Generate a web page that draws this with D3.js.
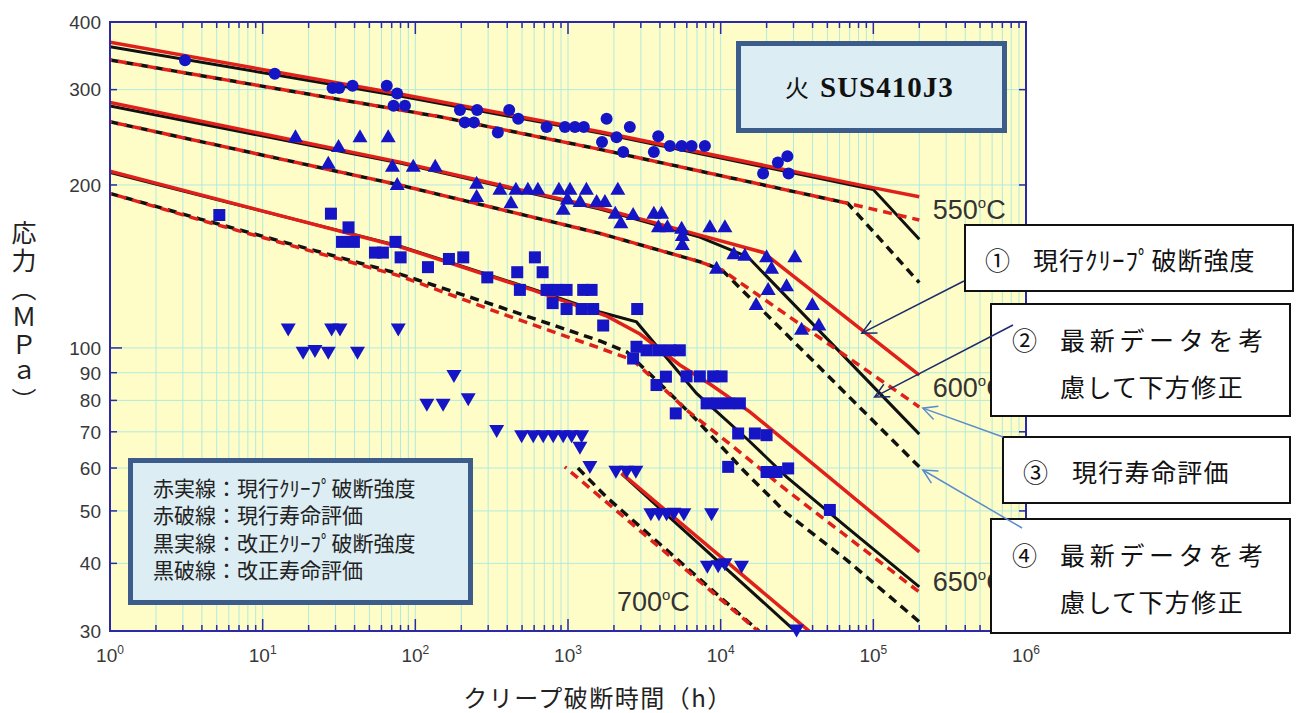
<!DOCTYPE html>
<html>
<head>
<meta charset="utf-8">
<script src="https://cdn.jsdelivr.net/npm/d3@7"></script>
<style>
	body { margin: 0; background: #ffffff; }
	svg text { font-family: 'Liberation Sans', Arial, sans-serif; }
	svg .jp { font-family: 'Noto Sans CJK JP', sans-serif; }
</style>
</head>
<body>
<div id="plot"></div>
<script>
// ---- values: [rupture time (h), stress (MPa)] ----

// test data points
var circles550 = [[3.1,340],[12,321],[28.7,302],[31.7,302],[38.8,305],[65,305],[76,295],[72,280],[85.5,280],
	[196,275],[254,275],[211,261],[242,261],[347,250],[412,275],[472,265],[724,256],[955,256],[1110,256],[1270,256],
	[1790,265],[1670,240],[2080,245],[2300,230],[2540,256],[3900,246],[3650,230],[4650,236],[5550,236],[6450,236],[7880,236],
	[18970,210],[23700,220],[27350,226],[27860,210]];

var triUp600 = [[16.4,245],[31.4,235],[26.9,219],[43.4,245],[66.4,245],[70.8,216],[96.9,216],[135,216],[76.1,200],
	[252,201],[252,190],[358,196],[456,196],[546,196],[635,196],[872,196],[1030,196],[1320,196],[2120,196],
	[423,185],[930,180],[991,188],[1200,186],[1540,186],[1745,186],[2040,177],[2220,170],[2670,176],
	[3650,177],[4100,177],[3910,167],[4480,167],[5550,166],[5610,161],[5610,155],[8500,167],[10660,167],
	[12200,149],[14400,148],[19980,147],[30620,147],[21540,140],[9400,140],[20470,128],[27010,130],
	[17080,120],[39870,120],[33880,108],[43970,110]];

var squares650 = [[5.2,176],[28,177],[36.5,167],[33.1,157],[39.6,157],[54.4,150],[61.3,150],[74.1,157],[80.1,147],[121,141],
	[166,146],[206,147],[296,135],[465,138],[607,147],[682,138],[484,128],[724,128],[842,128],[979,128],[1258,128],[1427,128],
	[793,121],[979,118],[1228,118],[1462,118],[1700,110],[2840,118],
	[2810,100.5],[3270,99],[3900,99],[4650,99],[5400,99],[2670,95.6],
	[4380,88.5],[5980,88.6],[7300,88.6],[8930,88.6],[10140,88.6],[3800,85.4],[5080,75.7],
	[8090,79],[9520,79],[11320,79],[13360,79],[13020,69.5],[16750,69.5],[19980,69],
	[11200,60.3],[19980,59],[23230,59],[27680,59.9],[51900,50.2]];

var triDown700 = [[14.7,108.6],[18.4,98.4],[22,99.1],[26.9,98.4],[28.3,108.6],[32.1,108.6],[41.8,98.4],[77.3,108.6],
	[179,89.1],[119,78.9],[152,78.9],[222,80.7],[341,70.5],
	[497,69],[592,69],[688,69],[800,69],[930,69],[1056,69],[1228,69],[1197,65.7],[1391,60.5],
	[2059,59.3],[2420,59.3],[2784,59.3],
	[3490,49.5],[3939,49.5],[4423,49.5],[4937,49.6],[5741,49.5],[8718,49.5],
	[8182,39.6],[9630,39.7],[10660,40],[13700,39.6],[31420,30.2]];

// evaluation curves
var redSolid550 = [[1,367],[79.3,294.4],[1618,250.8],[1.05e5,197.1],[2e5,190.2]];
var blackSolid550 = [[1,360],[79.3,292],[1618,249.4],[1e5,196.1],[2e5,158.7]];
var redDash550 = [[1,340.4],[145,267.3],[1618,232.7],[68000,185],[2e5,172.3]];
var blackDash550 = [[1,340.4],[145,267.3],[1618,232.7],[68000,185],[2e5,132]];

var redSolid600 = [[1,284],[79.3,220.4],[1618,181.3],[7300,161.6],[19000,150.1],[2e5,89.1]];
var blackSolid600 = [[1,280],[79.3,219.5],[1618,180.5],[7300,160.2],[15100,147.2],[2e5,69.3]];
var redDash600 = [[1,261.7],[79.3,199.9],[1618,162.8],[7300,144.3],[10200,139.3],[2e5,77.8]];
var blackDash600 = [[1,261.7],[79.3,199.9],[1618,162.8],[7300,144.3],[10200,139.3],[2e5,60.3]];

var redSolid650 = [[1,212],[79.3,153.8],[589,127.9],[1800,114.5],[2960,106.1],[5400,93],[8500,85.8],[15540,76.2],[2e5,42]];
var blackSolid650 = [[1,211],[79.3,154.2],[589,128.4],[1618,116.5],[2810,111.7],[6950,82.4],[15140,67.6],[27000,57.8],[68400,46.4],[2e5,36.2]];
var redDash650 = [[1,193],[3.9,172.3],[79.3,135.8],[358,116],[1618,99.9],[2660,95],[5980,76.8],[12080,65.7],[27000,54.6],[2e5,35.4]];
var blackDash650 = [[1,193],[3.9,173],[79.3,136.9],[358,119],[1618,103],[2430,98.3],[4420,83.6],[6950,73.6],[14040,59.5],[27000,49.5],[66750,40.6],[2e5,31.2]];

var redSolid700 = [[2240,58.7],[39000,29.8]];
var blackSolid700 = [[2250,58.5],[31500,29.8]];
var redDash700 = [[954,60.3],[17800,29.9]];
var blackDash700 = [[1161,60],[1790,53],[18000,29.9]];

// axes
var yTickValues = [30,40,50,60,70,80,90,100,200,300,400];
var xDecades = [0,1,2,3,4,5,6];

// texts
var tempLabels = [{t:"550", deg:"C", at:[2.45e5,173]}, {t:"600", deg:"C", at:[2.45e5,81]},
	{t:"650", deg:"C", at:[2.45e5,35.5]}, {t:"700", deg:"C", at:[2090,32.7]}];
var legendLines = ["赤実線：現行ｸﾘｰﾌﾟ破断強度", "赤破線：現行寿命評価", "黒実線：改正ｸﾘｰﾌﾟ破断強度", "黒破線：改正寿命評価"];
var yLabel = "応力（ＭＰａ）";
var xLabel = "クリープ破断時間（h）";
var titleText = ["火", "SUS410J3"];
var notes = [
	{mark:"①", lines:["現行ｸﾘｰﾌﾟ破断強度"]},
	{mark:"②", lines:["最新データを考", "慮して下方修正"]},
	{mark:"③", lines:["現行寿命評価"]},
	{mark:"④", lines:["最新データを考", "慮して下方修正"]}
];
// arrow tips, in chart units
var arrowTips = [[84100,106.5],[102000,81.2],[211000,77.4],[211000,59.5]];


// ---- drawing ----
var width = 1299, height = 713;
var area = {left: 110, right: 1026, top: 22, bottom: 631};
var axisColor = "#2a2aa6",
	gridColor = "#b2eadd",
	markColor = "#1515c6",
	red = "#e0211b",
	black = "#111111";

var svg = d3.select("#plot").append("svg")
	.attr("width", width)
	.attr("height", height);

var x = d3.scaleLog().domain([1, 1e6]).range([area.left, area.right]);
var y = d3.scaleLog().domain([30, 400]).range([area.bottom, area.top]);

// plot background
svg.append("rect")
	.attr("x", area.left).attr("y", area.top)
	.attr("width", area.right - area.left).attr("height", area.bottom - area.top)
	.attr("fill", "#fefdc8");

// grid lines at every log tick
var xTicks = [];
xDecades.forEach(function(k){
	if (k < 6) for (var m = 1; m < 10; m++) xTicks.push(m * Math.pow(10, k));
});
xTicks.push(1e6);
var isDecade = function(v){ var l = Math.log10(v); return Math.abs(l - Math.round(l)) < 1e-9; };

var grid = svg.append("g").attr("stroke", gridColor).attr("stroke-width", 1);
grid.selectAll(".gx").data(xTicks).enter().append("line")
	.attr("x1", function(d){ return x(d); }).attr("x2", function(d){ return x(d); })
	.attr("y1", area.top).attr("y2", area.bottom);
grid.selectAll(".gy").data(yTickValues).enter().append("line")
	.attr("x1", area.left).attr("x2", area.right)
	.attr("y1", function(d){ return y(d); }).attr("y2", function(d){ return y(d); });

// curves, clipped to the plot
svg.append("clipPath").attr("id", "clip").append("rect")
	.attr("x", area.left).attr("y", area.top)
	.attr("width", area.right - area.left).attr("height", area.bottom - area.top);

var line = d3.line()
	.x(function(d){ return x(d[0]); })
	.y(function(d){ return y(d[1]); });

var curves = [
	{d: blackSolid550, c: black, w: 3, dash: null},
	{d: blackSolid600, c: black, w: 3, dash: null},
	{d: blackSolid650, c: black, w: 3, dash: null},
	{d: blackSolid700, c: black, w: 3, dash: null},
	{d: redSolid550, c: red, w: 3.5, dash: null},
	{d: redSolid600, c: red, w: 3.5, dash: null},
	{d: redSolid650, c: red, w: 3.5, dash: null},
	{d: redSolid700, c: red, w: 3.5, dash: null},
	{d: blackDash550, c: black, w: 3.5, dash: "9,6", off: 0},
	{d: blackDash600, c: black, w: 3.5, dash: "9,6", off: 0},
	{d: blackDash650, c: black, w: 3.5, dash: "9,6", off: 0},
	{d: blackDash700, c: black, w: 3.5, dash: "9,6", off: 0},
	{d: redDash550, c: red, w: 3.5, dash: "9,6", off: 7},
	{d: redDash600, c: red, w: 3.5, dash: "9,6", off: 7},
	{d: redDash650, c: red, w: 3.5, dash: "9,6", off: 7},
	{d: redDash700, c: red, w: 3.5, dash: "9,6", off: 7}
];

svg.append("g").attr("clip-path", "url(#clip)")
	.selectAll("path").data(curves).enter().append("path")
	.attr("d", function(c){ return line(c.d); })
	.attr("fill", "none")
	.attr("stroke", function(c){ return c.c; })
	.attr("stroke-width", function(c){ return c.w; })
	.attr("stroke-dasharray", function(c){ return c.dash; })
	.attr("stroke-dashoffset", function(c){ return c.off || 0; });

// frame and inward ticks
svg.append("rect")
	.attr("x", area.left).attr("y", area.top)
	.attr("width", area.right - area.left).attr("height", area.bottom - area.top)
	.attr("fill", "none").attr("stroke", axisColor).attr("stroke-width", 2);

var ticks = svg.append("g").attr("stroke", axisColor).attr("stroke-width", 1.5);
ticks.selectAll(".tb").data(xTicks).enter().append("line")
	.attr("x1", function(d){ return x(d); }).attr("x2", function(d){ return x(d); })
	.attr("y1", area.bottom).attr("y2", function(d){ return area.bottom - (isDecade(d) ? 12 : 6); });
ticks.selectAll(".tt").data(xTicks).enter().append("line")
	.attr("x1", function(d){ return x(d); }).attr("x2", function(d){ return x(d); })
	.attr("y1", area.top).attr("y2", function(d){ return area.top + (isDecade(d) ? 12 : 6); });
ticks.selectAll(".tl").data(yTickValues).enter().append("line")
	.attr("y1", function(d){ return y(d); }).attr("y2", function(d){ return y(d); })
	.attr("x1", area.left).attr("x2", function(d){ return area.left + (d === 100 ? 12 : 7); });
ticks.selectAll(".tr").data(yTickValues).enter().append("line")
	.attr("y1", function(d){ return y(d); }).attr("y2", function(d){ return y(d); })
	.attr("x1", area.right).attr("x2", function(d){ return area.right - (d === 100 ? 12 : 7); });

// tick labels
svg.append("g").selectAll("text").data(yTickValues).enter().append("text")
	.attr("x", area.left - 9)
	.attr("y", function(d){ return y(d); })
	.attr("dy", "0.36em")
	.attr("text-anchor", "end")
	.attr("font-size", 19)
	.attr("fill", "#383838")
	.text(function(d){ return d; });

svg.append("g").selectAll("text").data(xDecades).enter().append("text")
	.attr("x", function(d){ return x(Math.pow(10, d)); })
	.attr("y", 662)
	.attr("text-anchor", "middle")
	.attr("font-size", 19)
	.attr("fill", "#383838")
	.each(function(d){
		var t = d3.select(this);
		t.append("tspan").text("10");
		t.append("tspan").attr("dy", -8).attr("font-size", 12).text(d);
	});

// data markers
var marks = svg.append("g").attr("fill", markColor);
marks.selectAll(".c550").data(circles550).enter().append("circle")
	.attr("cx", function(d){ return x(d[0]); })
	.attr("cy", function(d){ return y(d[1]); })
	.attr("r", 6);
marks.selectAll(".t600").data(triUp600).enter().append("path")
	.attr("d", "M0,-8L7.5,5L-7.5,5Z")
	.attr("transform", function(d){ return "translate(" + x(d[0]) + "," + y(d[1]) + ")"; });
marks.selectAll(".s650").data(squares650).enter().append("rect")
	.attr("x", function(d){ return x(d[0]) - 6; })
	.attr("y", function(d){ return y(d[1]) - 6; })
	.attr("width", 12).attr("height", 12);
marks.selectAll(".t700").data(triDown700).enter().append("path")
	.attr("d", "M0,8L7.5,-5L-7.5,-5Z")
	.attr("transform", function(d){ return "translate(" + x(d[0]) + "," + y(d[1]) + ")"; });

// temperature labels
var tl = svg.append("g").selectAll("text").data(tempLabels).enter().append("text")
	.attr("x", function(d){ return x(d.at[0]); })
	.attr("y", function(d){ return y(d.at[1]); })
	.attr("font-size", 27)
	.attr("fill", "#333");
tl.append("tspan").text(function(d){ return d.t; });
tl.append("tspan").attr("dy", -11).attr("font-size", 15).text("o");
tl.append("tspan").attr("dy", 11).text(function(d){ return d.deg; });

// axis titles
svg.append("text")
	.attr("class", "jp")
	.attr("x", 24).attr("y", 220)
	.style("writing-mode", "vertical-rl")
	.attr("font-size", 25)
	.attr("letter-spacing", 3)
	.attr("fill", "#222")
	.text(yLabel);

svg.append("text")
	.attr("class", "jp")
	.attr("x", 598).attr("y", 707)
	.attr("text-anchor", "middle")
	.attr("font-size", 24)
	.attr("letter-spacing", 1.5)
	.attr("fill", "#222")
	.text(xLabel);

// title box
svg.append("rect")
	.attr("x", 738.5).attr("y", 43.5).attr("width", 266).attr("height", 87)
	.attr("fill", "#dcedf3").attr("stroke", "#3c5c8c").attr("stroke-width", 5);
var title = svg.append("text").attr("y", 97).attr("fill", "#111");
title.append("tspan").attr("class", "jp").attr("x", 785).attr("font-size", 24).text(titleText[0]);
title.append("tspan").attr("x", 820).attr("font-size", 29).attr("font-weight", "bold")
	.attr("letter-spacing", 1)
	.style("font-family", "'Liberation Serif', 'DejaVu Serif', serif")
	.text(titleText[1]);

// legend box
svg.append("rect")
	.attr("x", 130.5).attr("y", 460.5).attr("width", 340).attr("height", 142)
	.attr("fill", "#dcedf3").attr("stroke", "#3c5c8c").attr("stroke-width", 5);
svg.append("g").selectAll("text").data(legendLines).enter().append("text")
	.attr("class", "jp")
	.attr("x", 153)
	.attr("y", function(d, i){ return 496 + i * 27.3; })
	.attr("font-size", 21)
	.attr("fill", "#222")
	.text(function(d){ return d; });

// annotation boxes on the right
var boxes = [
	{x: 965, y: 225, w: 328, h: 66, markX: 985, textX: 1033, base: [270], sp: [1]},
	{x: 991, y: 304, w: 299, h: 112, markX: 1012, textX: 1060, base: [350, 397], sp: [4.7, 1.4]},
	{x: 1003, y: 437, w: 287, h: 66, markX: 1023, textX: 1072, base: [482], sp: [1.3]},
	{x: 991, y: 519, w: 299, h: 114, markX: 1012, textX: 1060, base: [565, 612], sp: [4.7, 1.4]}
];
boxes.forEach(function(b, i){
	var g = svg.append("g");
	g.append("rect")
		.attr("x", b.x).attr("y", b.y).attr("width", b.w).attr("height", b.h)
		.attr("fill", "#fff").attr("stroke", "#111").attr("stroke-width", 2);
	g.append("text").attr("class", "jp")
		.attr("x", b.markX).attr("y", b.base[0])
		.attr("font-size", 25).attr("fill", "#111")
		.text(notes[i].mark);
	notes[i].lines.forEach(function(s, j){
		g.append("text").attr("class", "jp")
			.attr("x", b.textX).attr("y", b.base[j])
			.attr("font-size", 25).attr("letter-spacing", b.sp[j]).attr("fill", "#111")
			.text(s);
	});
});

// arrows from the boxes to the curves
var defs = svg.append("defs");
[["dark", "#1c2c6c"], ["light", "#5a8cd0"]].forEach(function(m){
	defs.append("marker")
		.attr("id", "head-" + m[0])
		.attr("viewBox", "-16 -10 18 20")
		.attr("refX", 0).attr("refY", 0)
		.attr("markerWidth", 18).attr("markerHeight", 20)
		.attr("markerUnits", "userSpaceOnUse")
		.attr("orient", "auto")
		.append("path")
		.attr("d", "M-14,-7L0,0L-14,7")
		.attr("fill", "none").attr("stroke", m[1]).attr("stroke-width", 1.5);
});
var arrowStarts = [[964, 281], [1013, 325], [1003, 437], [1022, 528]];
svg.append("g").selectAll("line").data(arrowTips).enter().append("line")
	.attr("x1", function(d, i){ return arrowStarts[i][0]; })
	.attr("y1", function(d, i){ return arrowStarts[i][1]; })
	.attr("x2", function(d){ return x(d[0]); })
	.attr("y2", function(d){ return y(d[1]); })
	.attr("stroke", function(d, i){ return i < 2 ? "#1c2c6c" : "#5a8cd0"; })
	.attr("stroke-width", 1.5)
	.attr("marker-end", function(d, i){ return i < 2 ? "url(#head-dark)" : "url(#head-light)"; });
</script>
</body>
</html>
